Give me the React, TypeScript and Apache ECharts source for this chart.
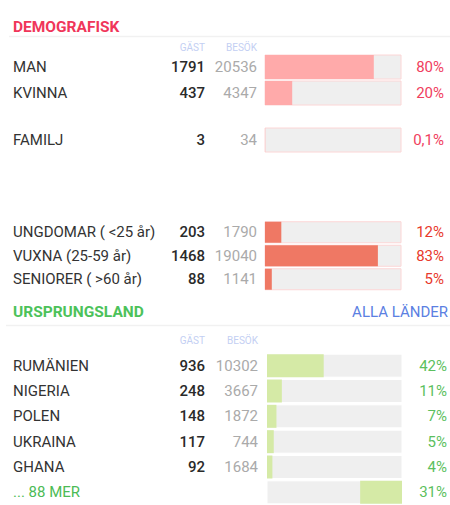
import React, { useEffect, useRef } from "react";
import * as echarts from "echarts";

// ---- data ----
const demoNames = ["MAN", "KVINNA"];
const demoGuests = [1791, 437];
const demoVisits = [20536, 4347];
const demoPct = [80, 20];

const famNames = ["FAMILJ"];
const famGuests = [3];
const famVisits = [34];
const famPct = [0.1];

const ageNames = ["UNGDOMAR ( <25 år)", "VUXNA (25-59 år)", "SENIORER ( >60 år)"];
const ageGuests = [203, 1468, 88];
const ageVisits = [1790, 19040, 1141];
const agePct = [12, 83, 5];

const countryNames = ["RUMÄNIEN", "NIGERIA", "POLEN", "UKRAINA", "GHANA", "... 88 MER"];
const countryGuests: (number | null)[] = [936, 248, 148, 117, 92, null];
const countryVisits: (number | null)[] = [10302, 3667, 1872, 744, 1684, null];
const countryPct = [42, 11, 7, 5, 4, 31];
const countryIsRest = [false, false, false, false, false, true];

const FONT = "Roboto, 'Noto Sans', sans-serif";
const FS = 15;

const fmtPct = (v: number) => String(v).replace(".", ",") + "%";

function rowRich(nameW: number, gW: number, bW: number, restColor: string) {
  return {
    n: { width: nameW, align: "left", fontSize: FS, color: "#333", fontFamily: FONT },
    g: { width: gW, align: "right", fontSize: FS, color: "#2a2a2a", fontWeight: 500, fontFamily: FONT },
    b: { width: bW, align: "right", fontSize: FS, color: "#aaaaaa", fontFamily: FONT },
    m: { width: nameW + gW + bW, align: "left", fontSize: FS, color: restColor, fontFamily: FONT },
  };
}

export default function App() {
  const ref = useRef<HTMLDivElement>(null);
  useEffect(() => {
    document.body.style.margin = "0";
    const chart = echarts.init(ref.current!, undefined, { renderer: "svg" });

    const sections = [
      { names: demoNames, g: demoGuests, b: demoVisits, pct: demoPct, offset: demoPct.map(() => 0), top: 54, band: 26, barW: 24, left: 265, right: 49, fill: "#ffaaaa", pctColor: "#f0405e", bgBorder: "#fcd6d6", pctMargin: 43, nameW: 147, gW: 45, bW: 52, lblMargin: 8 },
      { names: famNames, g: famGuests, b: famVisits, pct: famPct, offset: famPct.map(() => 0), top: 127, band: 26, barW: 24, left: 265, right: 49, fill: "#ffaaaa", pctColor: "#f0405e", bgBorder: "#fcd6d6", pctMargin: 43, nameW: 147, gW: 45, bW: 52, lblMargin: 8 },
      { names: ageNames, g: ageGuests, b: ageVisits, pct: agePct, offset: agePct.map(() => 0), top: 220.5, band: 23.5, barW: 21, left: 265, right: 49, fill: "#ef7864", pctColor: "#e8392c", bgBorder: "#fcd6d6", pctMargin: 43, nameW: 147, gW: 45, bW: 52, lblMargin: 8 },
      { names: countryNames, g: countryGuests, b: countryVisits, pct: countryPct, offset: countryPct.map((v, i) => (countryIsRest[i] ? 100 - v : 0)), top: 353, band: 25.8, barW: 23, left: 267, right: 46, fill: "#d5eaa6", pctColor: "#5cbf5e", bgBorder: "#ffffff", pctMargin: 45, nameW: 147, gW: 45, bW: 53, lblMargin: 9 },
    ];

    const grid: any[] = [];
    const xAxis: any[] = [];
    const yAxis: any[] = [];
    const series: any[] = [];

    sections.forEach((s, si) => {
      grid.push({ left: s.left, right: s.right, top: s.top, height: s.band * s.names.length, containLabel: false });
      xAxis.push({ type: "value", gridIndex: si, min: 0, max: 100, show: false });
      yAxis.push({
        type: "category", gridIndex: si, data: s.names, inverse: true, position: "left",
        axisLine: { show: false }, axisTick: { show: false }, splitLine: { show: false },
        axisLabel: {
          margin: s.lblMargin, align: "right",
          formatter: (v: string, i: number) =>
            s.g[i] == null ? `{m|${v}}` : `{n|${v}}{g|${s.g[i]}}{b|${s.b[i]}}`,
          rich: rowRich(s.nameW, s.gW, s.bW, "#4cbb55"),
        },
      });
      yAxis.push({
        type: "category", gridIndex: si, data: s.names, inverse: true, position: "right",
        axisLine: { show: false }, axisTick: { show: false }, splitLine: { show: false },
        axisLabel: {
          margin: s.pctMargin, align: "right", fontSize: FS, fontFamily: FONT, color: s.pctColor,
          formatter: (_v: string, i: number) => fmtPct(s.pct[i]),
        },
      });
      series.push({
        type: "bar", xAxisIndex: si, yAxisIndex: si * 2, stack: "s" + si, data: s.offset,
        barWidth: s.barW, itemStyle: { color: "rgba(0,0,0,0)" },
        showBackground: true,
        backgroundStyle: { color: "#efefef", borderColor: s.bgBorder, borderWidth: 1 },
        silent: true,
      });
      series.push({
        type: "bar", xAxisIndex: si, yAxisIndex: si * 2, stack: "s" + si, data: s.pct,
        barWidth: s.barW, itemStyle: { color: s.fill },
      });
    });

    const hdr = (x: number, y: number, t: string) => ({
      type: "text", x, y, style: { text: t, fill: "#c3cff3", fontSize: 10, fontFamily: FONT, align: "right", verticalAlign: "middle" },
    });

    chart.setOption({
      animation: false,
      textStyle: { fontFamily: FONT },
      grid, xAxis, yAxis, series,
      graphic: [
        { type: "text", x: 13, y: 27, style: { text: "DEMOGRAFISK", fill: "#f0365a", fontSize: 15.5, fontWeight: "bold", fontFamily: FONT, verticalAlign: "middle" } },
        { type: "line", shape: { x1: 9, y1: 36.5, x2: 450, y2: 36.5 }, style: { stroke: "#f1f1f1", lineWidth: 1.5 } },
        hdr(205, 47, "GÄST"),
        hdr(257, 47, "BESÖK"),
        { type: "text", x: 13, y: 312, style: { text: "URSPRUNGSLAND", fill: "#4cc25a", fontSize: 15.5, fontWeight: "bold", fontFamily: FONT, verticalAlign: "middle" } },
        { type: "text", x: 448, y: 312, style: { text: "ALLA LÄNDER", fill: "#5b80e2", fontSize: 15, fontFamily: FONT, align: "right", verticalAlign: "middle" } },
        { type: "line", shape: { x1: 6, y1: 325.5, x2: 450, y2: 325.5 }, style: { stroke: "#f1f1f1", lineWidth: 1.5 } },
        hdr(205, 340, "GÄST"),
        hdr(258, 340, "BESÖK"),
      ],
    });
    return () => chart.dispose();
  }, []);
  return <div ref={ref} style={{ width: 450, height: 505 }} />;
}
